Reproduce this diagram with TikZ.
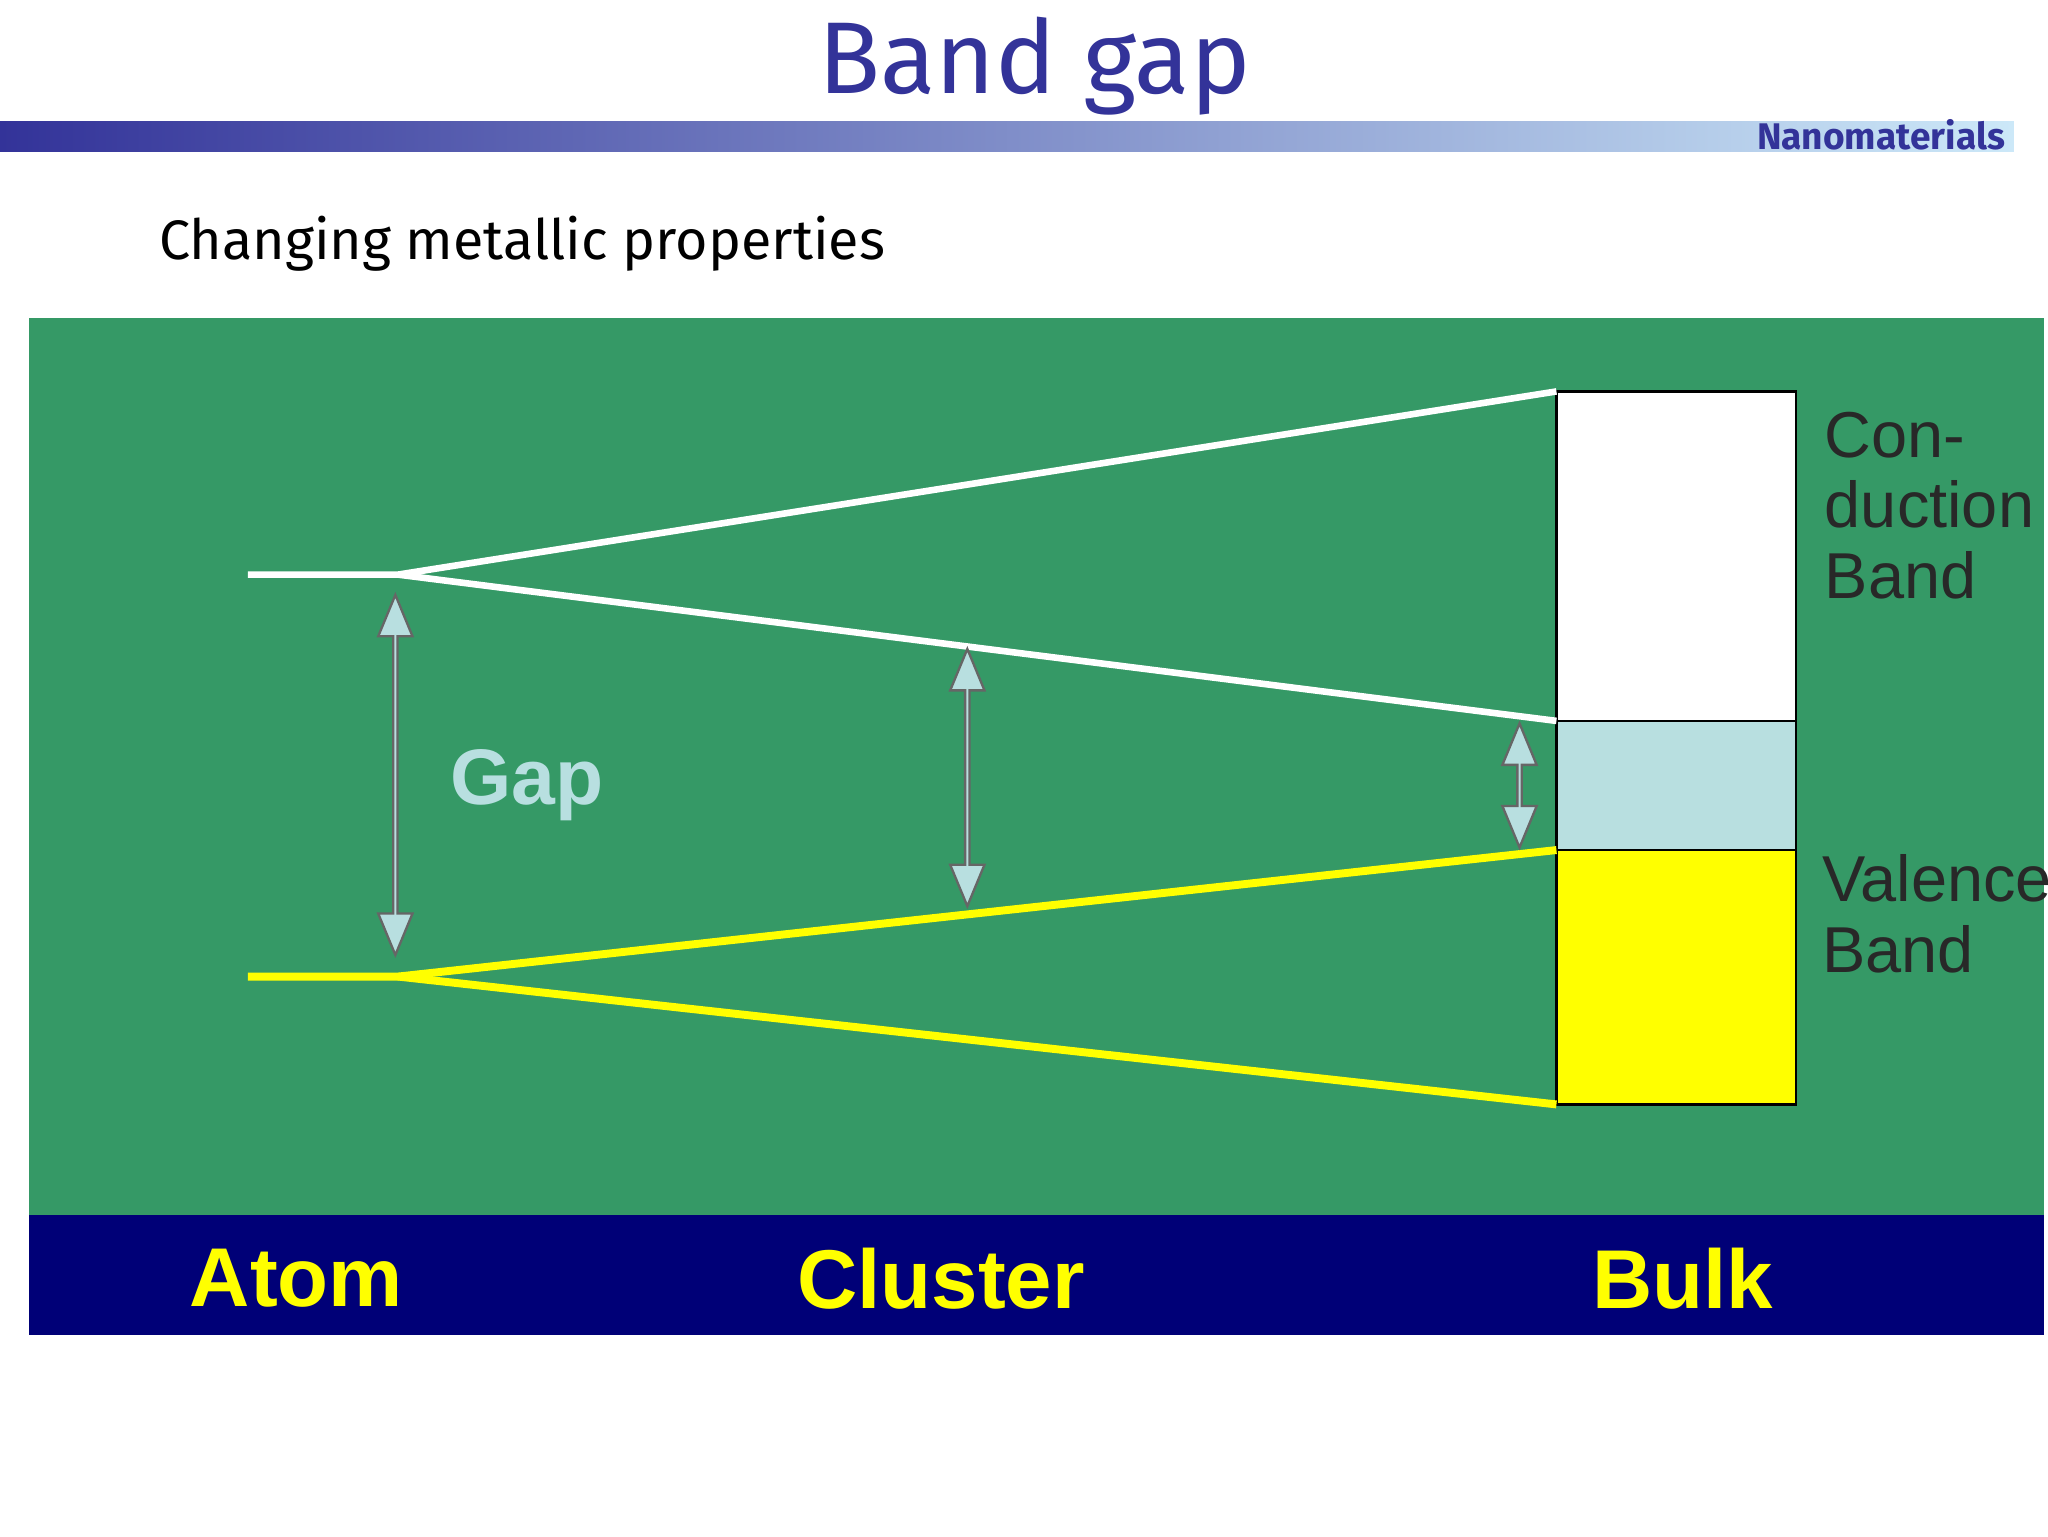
\documentclass[tikz,border=0pt]{standalone}
\usepackage{fontspec}
\setmainfont{Liberation Sans}
\newfontfamily\comicf{Fira Sans}
\usetikzlibrary{shapes.arrows}
\definecolor{ttl}{RGB}{51,51,153}
\definecolor{barlight}{RGB}{204,232,248}
\definecolor{bggreen}{RGB}{53,153,102}
\definecolor{navy}{RGB}{0,0,119}
\definecolor{gapblue}{RGB}{184,223,224}
\definecolor{ylw}{RGB}{255,255,0}
\definecolor{lbl}{RGB}{40,40,40}
\tikzset{
 wl/.style={white,line width=5pt*0.2845},
 yl/.style={ylw,line width=6pt*0.2845},
 fat/.style={double arrow,draw=gray!80!black,fill=gapblue,rotate=90,inner sep=0pt,
   minimum width=26*0.2845pt,double arrow head extend=6*0.2845pt,double arrow tip angle=45,line width=0.5pt},
 bot/.style={ylw,font=\bfseries\fontsize{18}{20}\selectfont},
 side/.style={lbl,align=left,anchor=north west,font=\fontsize{14}{15.2}\selectfont,inner sep=0pt}
}
\begin{document}
\begin{tikzpicture}[x=0.01cm,y=-0.01cm]
\useasboundingbox (0,0) rectangle (1554,1166);
\fill[white] (0,0) rectangle (1554,1166);
\node (title) at (785,50) {\comicf\color{ttl}\fontsize{22}{24}\selectfont Band gap};
\shade[left color=ttl,right color=barlight] (0,92) rectangle (1528,115);
\node[anchor=east,inner sep=0pt] (nano) at (1522,102) {\comicf\bfseries\color{ttl}\fontsize{8}{9}\selectfont Nanomaterials};
\node[anchor=west,inner sep=0pt] (sub) at (120,185) {\comicf\fontsize{12}{14}\selectfont Changing metallic properties};
\fill[bggreen] (22,241) rectangle (1551,922);
\fill[navy] (22,922) rectangle (1551,1013);
\node[bot] (atom) at (225,970) {Atom};
\node[bot] (cluster) at (714,970) {Cluster};
\node[bot] (bulk) at (1277,970) {Bulk};
% box
\draw[fill=white,line width=0.5pt] (1181,297) rectangle (1363,547);
\draw[fill=gapblue,line width=0.5pt] (1181,547) rectangle (1363,645);
\draw[fill=ylw,line width=0.5pt] (1181,645) rectangle (1363,838);
\coordinate (a1) at (188,436); \coordinate (c1) at (302,436);
\coordinate (ct) at (1181,297); \coordinate (cb) at (1181,547);
\coordinate (a2) at (188,741); \coordinate (c2) at (302,741);
\coordinate (vt) at (1181,645); \coordinate (vb) at (1181,838);
\draw[wl] (a1) -- (c1) -- (ct);
\draw[wl] (c1) -- (cb);
\draw[yl] (a2) -- (c2) -- (vt);
\draw[yl] (c2) -- (vb);
\node[side] (cond) at (1384,312) {Con-\\duction\\Band};
\node[side] (val) at (1382,648) {Valence\\Band};
\node[fat,minimum height=273*0.2845pt] (g1) at (300,588) {};
\node[fat,minimum height=195*0.2845pt] (g2) at (734,590) {};
\node[fat,minimum height=94*0.2845pt] (g3) at (1153,596) {};
\node[gapblue,font=\bfseries\fontsize{17}{19}\selectfont] (gap) at (400,596) {Gap};
\end{tikzpicture}
\end{document}
